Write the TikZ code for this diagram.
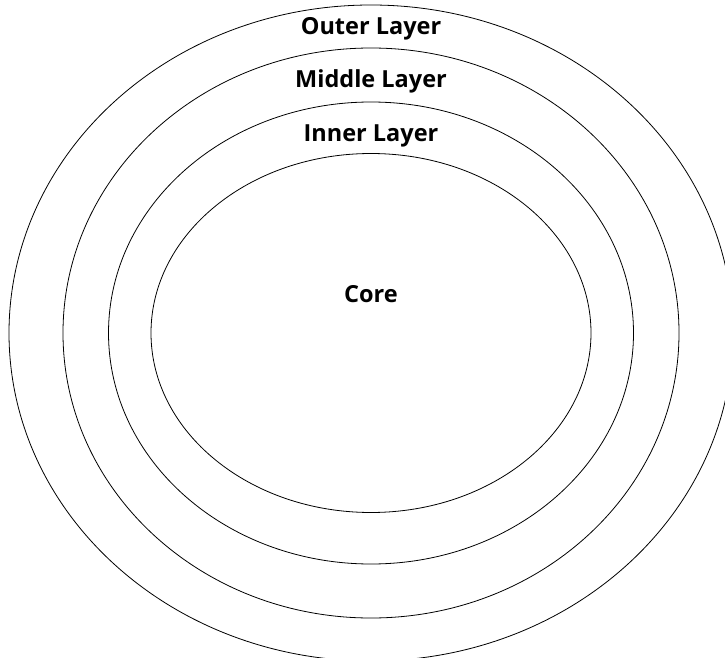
\documentclass[tikz,border=0pt]{standalone}
\usepackage{fontspec}
\setmainfont{Open Sans}
\begin{document}
\begin{tikzpicture}[x=1pt,y=-1pt,
  ring/.style={draw=black,line width=0.8pt},
  lbl/.style={anchor=base,inner sep=0pt,font=\bfseries\fontsize{23.5}{28}\selectfont}]
\useasboundingbox (0,0) rectangle (725,658);
\clip (0,0) rectangle (725,658);
\coordinate (ctr) at (371,333);
\draw[ring] (ctr) ellipse [x radius=362pt, y radius=328pt];
\draw[ring] (ctr) ellipse [x radius=308pt, y radius=285pt];
\draw[ring] (ctr) ellipse [x radius=262.5pt, y radius=231pt];
\draw[ring] (ctr) ellipse [x radius=220pt, y radius=179.5pt];
\node[lbl] (outerlbl) at (371,35) {Outer Layer};
\node[lbl] (middlelbl) at (371,88) {Middle Layer};
\node[lbl] (innerlbl) at (371,141) {Inner Layer};
\node[lbl] (corelbl) at (371,302) {Core};
\end{tikzpicture}
\end{document}
